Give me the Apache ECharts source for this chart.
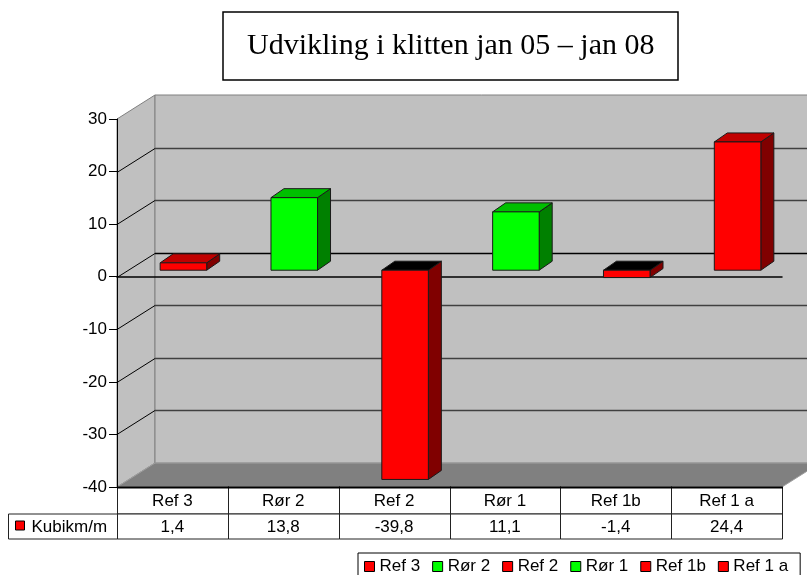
<!DOCTYPE html>
<html lang="da">
<head>
    <meta charset="UTF-8">
    <title>Udvikling i klitten jan 05 – jan 08</title>
    <script src="https://cdn.jsdelivr.net/npm/echarts@6.0.0/dist/echarts.min.js"></script>
    <style>
        html, body { margin: 0; padding: 0; background: #fff; }
        #main { width: 807px; height: 575px; }
    </style>
</head>
<body>
    <div id="main"></div>

    <script type="text/javascript">
        // data
        const categories = ['Ref 3', 'Rør 2', 'Ref 2', 'Rør 1', 'Ref 1b', 'Ref 1 a'];
        const kubikm = [1.4, 13.8, -39.8, 11.1, -1.4, 24.4];
        const seriesName = 'Kubikm/m';
        const yTicks = [-40, -30, -20, -10, 0, 10, 20, 30];

        var myChart = echarts.init(document.getElementById('main'));

        // fake 3d: depth of the walls and of the bars (pixels)
        const WALL = { dx: 38, dy: -24 };
        const BAR_OFF = { dx: 11, dy: -6.5 };
        const BAR = { dx: 13, dy: -9 };
        const SANS = 'Liberation Sans, Arial, sans-serif';
        const FONT_SIZE = 17;

        function colorsFor(name) {
            if (name.indexOf('Rør') === 0) {
                return { front: '#00ff00', top: '#00c000', side: '#008000' };
            }
            return { front: '#ff0000', top: '#c00000', side: '#800000' };
        }

        function fmt(v) {
            return v.toFixed(1).replace('.', ',');
        }

        // back wall, side wall, floor and the gridlines on them
        function renderWalls(params, api) {
            const cs = params.coordSys;
            const L = cs.x, R = cs.x + cs.width, T = cs.y, B = cs.y + cs.height;
            const dx = WALL.dx, dy = WALL.dy;
            const children = [
                { type: 'polygon', shape: { points: [[L, T], [L + dx, T + dy], [L + dx, B + dy], [L, B]] },
                  style: { fill: '#c0c0c0', stroke: '#808080', lineWidth: 1 } },
                { type: 'rect', shape: { x: L + dx, y: T + dy, width: R - L, height: B - T },
                  style: { fill: '#c0c0c0', stroke: '#808080', lineWidth: 1 } },
                { type: 'polygon', shape: { points: [[L, B], [L + dx, B + dy], [R + dx, B + dy], [R, B]] },
                  style: { fill: '#808080', stroke: '#a0a0a0', lineWidth: 1 } }
            ];
            yTicks.forEach(function (v) {
                if (v === yTicks[0] || v === yTicks[yTicks.length - 1]) return; // edges already drawn
                const y = Math.round(api.coord([0, v])[1]) + 0.5;
                children.push({ type: 'line', shape: { x1: L + dx, y1: y + dy, x2: R + dx, y2: y + dy },
                    style: { stroke: v === 0 ? '#000' : '#404040', lineWidth: 1.5 } });
                children.push({ type: 'line', shape: { x1: L, y1: y, x2: L + dx, y2: y + dy },
                    style: { stroke: '#000', lineWidth: 1 } });
            });
            return { type: 'group', children: children };
        }

        // one 3d column: side, top and front face
        function renderBar(params, api) {
            const i = api.value(0), v = api.value(1);
            const base = api.coord([i, 0]), tip = api.coord([i, v]);
            const hw = api.size([1, 0])[0] * 0.21;
            const x0 = base[0] + BAR_OFF.dx - hw, x1 = base[0] + BAR_OFF.dx + hw;
            const yTop = Math.min(base[1], tip[1]) + BAR_OFF.dy;
            const yBot = Math.max(base[1], tip[1]) + BAR_OFF.dy;
            const c = colorsFor(categories[i]);
            const dx = BAR.dx, dy = BAR.dy;
            const edge = { stroke: '#1a1a1a', lineWidth: 1, lineJoin: 'round' };
            return {
                type: 'group',
                children: [
                    { type: 'polygon', shape: { points: [[x1, yTop], [x1 + dx, yTop + dy], [x1 + dx, yBot + dy], [x1, yBot]] },
                      style: Object.assign({ fill: c.side }, edge) },
                    { type: 'polygon', shape: { points: [[x0, yTop], [x1, yTop], [x1 + dx, yTop + dy], [x0 + dx, yTop + dy]] },
                      style: Object.assign({ fill: v < 0 ? '#000' : c.top }, edge) },
                    { type: 'rect', shape: { x: x0, y: yTop, width: x1 - x0, height: yBot - yTop },
                      style: Object.assign({ fill: c.front }, edge) }
                ]
            };
        }

        // data table under the plot
        function renderTable(params, api) {
            const i = api.value(0), v = api.value(1);
            const cs = params.coordSys;
            const B = Math.round(cs.y + cs.height);
            const band = api.size([1, 0])[0];
            const cx = api.coord([i, 0])[0];
            const xa = Math.round(cx - band / 2) + 0.5, xb = Math.round(cx + band / 2) + 0.5;
            const h1 = 26.5, h2 = 25;
            const txt = { fill: '#000', fontFamily: SANS, fontSize: FONT_SIZE, align: 'center', verticalAlign: 'middle' };
            const children = [
                { type: 'rect', shape: { x: xa, y: B + 0.5, width: xb - xa, height: h1 },
                  style: { fill: '#fff', stroke: '#222', lineWidth: 1 } },
                { type: 'rect', shape: { x: xa, y: B + 0.5 + h1, width: xb - xa, height: h2 },
                  style: { fill: '#fff', stroke: '#222', lineWidth: 1 } },
                { type: 'line', shape: { x1: xa - 0.5, y1: B + 0.5, x2: xb + 0.5, y2: B + 0.5 },
                  style: { stroke: '#000', lineWidth: 2 } },
                { type: 'text', style: Object.assign({ text: categories[i], x: cx, y: B + h1 / 2 + 1 }, txt) },
                { type: 'text', style: Object.assign({ text: fmt(v), x: cx, y: B + h1 + h2 / 2 + 1 }, txt) }
            ];
            if (i === 0) {
                // row header with its legend key
                const lx = Math.round(cs.x) - 109 + 0.5;
                children.push(
                    { type: 'rect', shape: { x: lx, y: B + 0.5 + h1, width: xa - lx, height: h2 },
                      style: { fill: '#fff', stroke: '#222', lineWidth: 1 } },
                    { type: 'rect', shape: { x: lx + 7, y: B + h1 + 7.5, width: 9, height: 9 },
                      style: { fill: '#ff0000', stroke: '#000', lineWidth: 1 } },
                    { type: 'text', style: Object.assign({}, txt, { text: seriesName, x: lx + 23, y: B + h1 + h2 / 2 + 1, align: 'left' }) }
                );
            }
            return { type: 'group', children: children };
        }

        const points = kubikm.map(function (v, i) { return [i, v]; });

        // empty series, only for the legend entries
        const legendSeries = categories.map(function (name) {
            return { name: name, type: 'bar', data: [], itemStyle: { color: colorsFor(name).front } };
        });

        var option = {
            backgroundColor: '#fff',
            animation: false,
            title: {
                text: 'Udvikling i klitten jan 05 – jan 08',
                left: 223,
                top: 12,
                padding: [19, 24, 19, 24],
                borderColor: '#000',
                borderWidth: 1.5,
                textStyle: {
                    fontFamily: 'Liberation Serif, Times New Roman, serif',
                    fontSize: 30,
                    fontWeight: 'normal',
                    color: '#000'
                }
            },
            legend: {
                data: categories,
                left: 358,
                right: -60,
                top: 553,
                icon: 'rect',
                itemWidth: 10,
                itemHeight: 10,
                itemGap: 12,
                selectedMode: false,
                borderColor: '#000',
                borderWidth: 1,
                borderRadius: 0,
                padding: [5, 12, 8, 6],
                itemStyle: { borderColor: '#000', borderWidth: 1 },
                textStyle: { fontFamily: SANS, fontSize: FONT_SIZE, color: '#000' }
            },
            grid: {
                left: 117,
                right: 25,
                top: 119,
                bottom: 88,
                containLabel: false,
                outerBoundsMode: 'none'
            },
            xAxis: {
                type: 'category',
                data: categories,
                axisLine: { show: true, onZero: true, lineStyle: { color: '#000', width: 1.5 } },
                axisTick: { show: false },
                axisLabel: { show: false },
                splitLine: { show: false }
            },
            yAxis: {
                type: 'value',
                min: -40,
                max: 30,
                interval: 10,
                axisLine: { show: true, lineStyle: { color: '#000' } },
                axisTick: { show: true, length: 8, lineStyle: { color: '#000' } },
                axisLabel: { margin: 10, color: '#000', fontFamily: SANS, fontSize: FONT_SIZE },
                splitLine: { show: false }
            },
            series: [
                {
                    name: 'walls',
                    type: 'custom',
                    z: -1,
                    silent: true,
                    renderItem: renderWalls,
                    data: [[0, 0]]
                },
                {
                    name: seriesName,
                    type: 'custom',
                    z: 3,
                    renderItem: renderBar,
                    data: points
                },
                {
                    name: 'table',
                    type: 'custom',
                    z: 3,
                    silent: true,
                    renderItem: renderTable,
                    data: points
                }
            ].concat(legendSeries)
        };

        myChart.setOption(option);

        window.addEventListener('resize', function () {
            myChart.resize();
        });
    </script>
</body>
</html>
